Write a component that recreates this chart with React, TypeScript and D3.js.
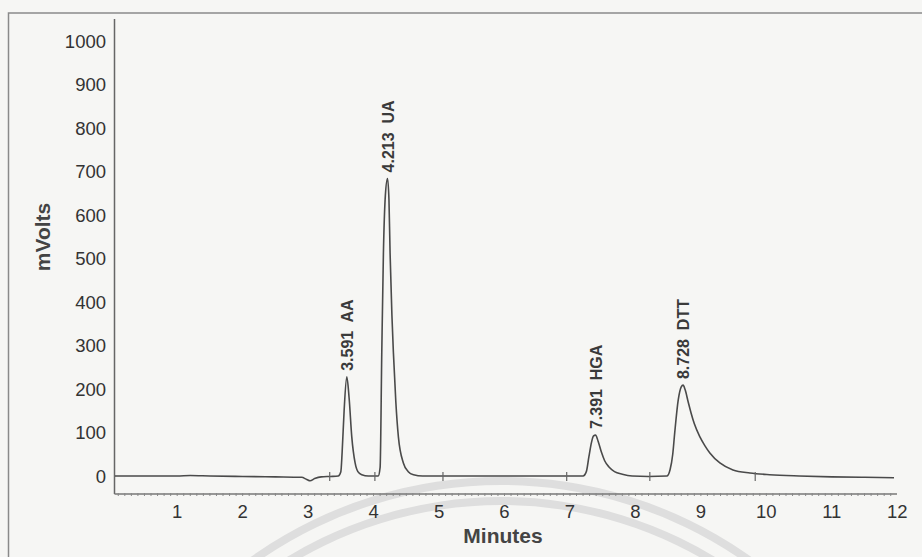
import * as d3 from 'd3';

// chromatogram trace (minutes, mV)
const traceTime = [
  0.05, 1.0, 1.2, 1.5, 2.0, 2.5, 2.9, 2.98, 3.03, 3.1, 3.2, 3.34,
  3.46, 3.5, 3.52, 3.55, 3.591, 3.626, 3.667, 3.718, 3.76, 3.82, 3.92,
  4.07, 4.1, 4.125, 4.15, 4.18, 4.213, 4.235, 4.252, 4.28, 4.303, 4.34, 4.379, 4.455, 4.53, 4.61, 4.75,
  5.5, 6.5,
  7.2, 7.25, 7.29, 7.33, 7.36, 7.391, 7.43, 7.48, 7.53, 7.6, 7.68, 7.8, 7.95,
  8.2, 8.48, 8.53, 8.57, 8.6, 8.654, 8.7, 8.728, 8.76, 8.806, 8.85, 8.9, 8.985, 9.06, 9.137, 9.29, 9.49, 9.75,
  10.05, 10.5, 11.0, 11.5, 11.95,
];
const traceMv = [
  0, 0, 1, 0, -1, -2, -3, -8, -11, -6, -2, -1,
  0, 10, 55, 150, 228, 180, 90, 30, 10, 3, 0,
  0, 20, 280, 510, 645, 684, 635, 513, 370, 283, 170, 90, 30, 10, 3, 0,
  0, 0,
  0, 10, 45, 78, 92, 94, 80, 55, 35, 20, 10, 4, 0,
  -1, 0, 15, 50, 99, 175, 205, 209, 198, 170, 145, 120, 90, 70, 53, 30, 14, 7,
  3, 0, -2, -3, -4,
];

const peakTimes = [3.591, 4.213, 7.391, 8.728];
const peakNames = ['AA', 'UA', 'HGA', 'DTT'];
const peakHeights = [228, 684, 94, 209];

const markerTimes = [3.33, 4.02, 5.06, 6.95, 8.22, 9.83];

const xTicks = [1, 2, 3, 4, 5, 6, 7, 8, 9, 10, 11, 12];
const yTicks = [0, 100, 200, 300, 400, 500, 600, 700, 800, 900, 1000];

const font = '"Liberation Sans", Arial, sans-serif';

export default function App() {
  const width = 922;
  const height = 557;

  const x = d3.scaleLinear().domain([0.05, 11.95]).range([115, 894]);
  const y = d3.scaleLinear().domain([0, 1000]).range([476, 41]);
  const axisY = 494;

  const pts = traceTime.map((t, i) => [t, traceMv[i]] as [number, number]);
  const line = d3.line<[number, number]>()
    .x(d => x(d[0]))
    .y(d => y(d[1]))
    .curve(d3.curveMonotoneX);

  const minor = d3.range(0.1, 12.0, 0.1);

  // watermark rings
  const arc1 = d3.arc()({ innerRadius: 424, outerRadius: 432, startAngle: -1.2, endAngle: 1.2 }) || '';
  const arc2 = d3.arc()({ innerRadius: 404, outerRadius: 412, startAngle: -1.2, endAngle: 1.2 }) || '';

  return (
    <svg width={width} height={height} style={{ position: 'absolute', left: 0, top: 0, background: '#f6f6f4' }}>
      <g transform="translate(501,909)" fill="#dedede">
        <path d={arc1} />
        <path d={arc2} />
      </g>

      <rect x={8.5} y={13} width={1000} height={700} fill="none" stroke="#8a8a8a" strokeWidth={1.5} />

      {/* y axis */}
      <line x1={114.5} x2={114.5} y1={19} y2={axisY} stroke="#666" strokeWidth={1.5} />
      {yTicks.map(v => (
        <text key={v} x={106} y={y(v)} dy="0.36em" textAnchor="end" fontSize={18.5}
          fontFamily={font} fill="#333">{v}</text>
      ))}
      <text transform={`translate(50,237) rotate(-90)`} textAnchor="middle" fontSize={21}
        fontWeight="bold" fontFamily={font} fill="#444">mVolts</text>

      {/* x axis ruler */}
      <line x1={114.5} x2={897} y1={axisY} y2={axisY} stroke="#777" strokeWidth={1.3} />
      {minor.map((t, i) => (
        <line key={i} x1={x(t)} x2={x(t)} y1={axisY - 1} y2={axisY + 2} stroke="#888" strokeWidth={1} />
      ))}
      {xTicks.map(v => (
        <text key={v} x={x(v)} y={518} textAnchor="middle" fontSize={18.5}
          fontFamily={font} fill="#333">{v}</text>
      ))}
      <text x={503} y={543} textAnchor="middle" fontSize={21} fontWeight="bold"
        fontFamily={font} fill="#444">Minutes</text>

      {/* trace */}
      <path d={line(pts) || ''} fill="none" stroke="#4a4a4a" strokeWidth={1.6} />

      {markerTimes.map((t, i) => (
        <line key={i} x1={x(t)} x2={x(t)} y1={y(0) - 4} y2={y(0) + 5} stroke="#666" strokeWidth={1.2} />
      ))}

      {peakTimes.map((t, i) => (
        <text key={t} transform={`translate(${x(t) + 6},${y(peakHeights[i]) - 6}) rotate(-90)`}
          fontSize={16} fontWeight="bold" fontFamily={font} fill="#3a3a3a" xmlSpace="preserve">
          {`${t.toFixed(3)}  ${peakNames[i]}`}
        </text>
      ))}
    </svg>
  );
}
